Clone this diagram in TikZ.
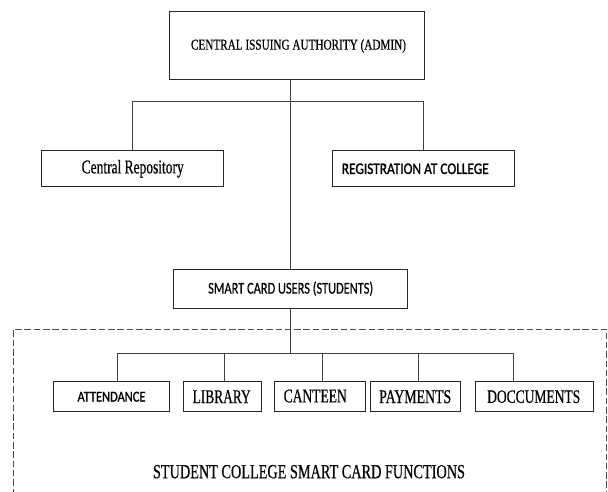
\documentclass[tikz,border=0pt]{standalone}
\usepackage{fontspec}
\usepackage{graphicx}
\setmainfont{Liberation Serif}[FakeBold=0.6]
\newfontfamily\sansfnt{Carlito}[FakeBold=0.5]
\newfontfamily\sansheavy{Carlito}[FakeBold=1.4]
\newcommand\sqz[3]{\resizebox{#1pt}{\height}{\fontsize{#2}{#2}\selectfont #3}}
\begin{document}
\begin{tikzpicture}[x=1pt,y=-1pt,
  box/.style={draw=black!85, line width=1pt, inner sep=0pt, outer sep=0pt, text=black},
  conn/.style={draw=black!75, line width=0.8pt},
  frame/.style={draw=black!70, line width=0.9pt, dash pattern=on 6.5pt off 2.8pt}]
\useasboundingbox (0,0) rectangle (608,492);
% boxes
\node[box, minimum width=255pt, minimum height=68pt] (top) at (296.5,46)
  {\hspace*{4pt}\sqz{215}{15}{CENTRAL ISSUING AUTHORITY (ADMIN)}};
\node[box, minimum width=182pt, minimum height=36pt] (cr) at (132.7,168.7)
  {\sqz{102}{19.5}{Central Repository}};
\node[box, minimum width=182pt, minimum height=36pt] (reg) at (423.3,168.8)
  {\sqz{147}{16}{\sansheavy REGISTRATION AT COLLEGE}\hspace*{16pt}};
\node[box, minimum width=234pt, minimum height=39.3pt] (users) at (290.7,288.7)
  {\sqz{165}{16.5}{\sansfnt SMART CARD USERS (STUDENTS)}};
\node[box, minimum width=115.6pt, minimum height=30pt] (att) at (111.5,396.7)
  {\sqz{68}{15}{\sansheavy ATTENDANCE}};
\node[box, minimum width=78pt, minimum height=30pt] (lib) at (222.7,396.7)
  {\sqz{58}{19.5}{LIBRARY}\hspace*{2pt}};
\node[box, minimum width=90.7pt, minimum height=30pt] (can) at (319.7,396.7)
  {\raisebox{1.5pt}{\sqz{63}{19.5}{CANTEEN}}\hspace*{9pt}};
\node[box, minimum width=90.3pt, minimum height=30pt] (pay) at (415.2,396.7)
  {\sqz{72}{19.5}{PAYMENTS}};
\node[box, minimum width=118pt, minimum height=30pt] (doc) at (534.7,396.7)
  {\sqz{93}{19}{DOCCUMENTS}\hspace*{2pt}};
\node[inner sep=0pt] (title) at (309,471.7)
  {\sqz{312}{20}{STUDENT COLLEGE SMART CARD FUNCTIONS}};
% dashed frame
\coordinate (fbl) at (13.7,495);
\coordinate (ftl) at (13.7,329);
\coordinate (ftr) at (606.7,329);
\coordinate (fbr) at (606.7,495);
\draw[frame] (fbl) -- (ftl) -- (ftr) -- (fbr);
% connectors
\coordinate (spine) at (290.7,0);
\coordinate (bus1) at (0,101);
\coordinate (bus2) at (0,353.3);
\draw[conn] (top.south -| spine) -- (users.north -| spine);
\draw[conn] (cr.north) -- (cr.north |- bus1) -- (reg.north |- bus1) -- (reg.north);
\draw[conn] (users.south -| spine) -- (bus2 -| spine);
\coordinate (ta) at (117,353.3);
\coordinate (tl) at (224,353.3);
\coordinate (tc) at (322.7,353.3);
\coordinate (tp) at (418,353.3);
\coordinate (td) at (513.7,353.3);
\draw[conn] (ta) -- (td);
\foreach \c/\n in {ta/att, tl/lib, tc/can, tp/pay, td/doc}
  \draw[conn] (\c) -- (\c |- \n.north);
\end{tikzpicture}
\end{document}
